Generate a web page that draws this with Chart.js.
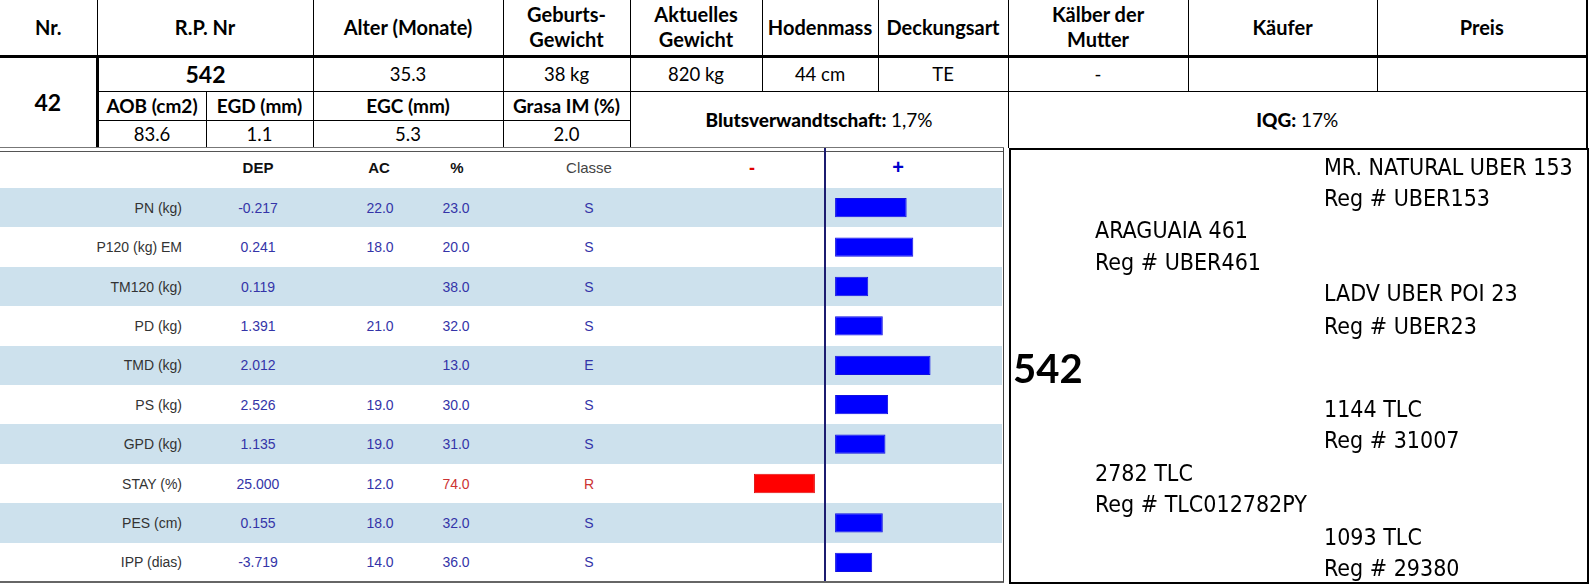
<!DOCTYPE html>
<html lang="de">
<head>
  <meta charset="UTF-8" />
  <title>Stier 542</title>
  <script src="https://cdn.jsdelivr.net/npm/chart.js"></script>
  <style>
    body { margin: 0; background: #fff; }
    #page { position: relative; width: 1592px; height: 584px; overflow: hidden; background: #fff; }
    table.top { position: absolute; left: 0; top: 0; border-collapse: collapse; table-layout: fixed; width: 1587px;
      font-family: Lato, 'Noto Sans', sans-serif; color: #000; }
    table.top td { border: 1px solid #000; text-align: center; vertical-align: middle; padding: 0; line-height: 25px; }
    table.top tr.h td { font-weight: bold; font-size: 20px; border-top: none; border-bottom: 3px solid #000; }
    table.top tr.r2 td { font-size: 18.5px; }
    table.top tr.r3 td { font-size: 19px; font-weight: bold; }
    table.top tr.r4 td { font-size: 18.5px; }
    table.top td.first { border-left: none; }
    table.top td.thickL { border-left: 3px solid #000; }
    table.top td.lastc { border-right: 2px solid #000; }
    .sep { position: absolute; left: 0; top: 147px; width: 1004px; height: 3px; border-top: 1px solid #777; border-bottom: 1px solid #555; }
    .stripe { position: absolute; left: 0; width: 1002px; background: #cde1ed; }
    .cell { position: absolute; font-family: 'Liberation Sans', Arial, sans-serif; font-size: 14px; line-height: 20px; white-space: nowrap; }
    .lab { color: #333; text-align: right; }
    .val { color: #3434a8; text-align: center; width: 80px; }
    .red { color: #cc3333; }
    .hd { font-weight: bold; color: #111; font-size: 15px; text-align: center; width: 80px; }
    #bars { position: absolute; left: 650px; top: 148px; }
    .vline { position: absolute; top: 148px; width: 1px; height: 434px; background: #444; }
    .bottom { position: absolute; left: 0; top: 581px; width: 1004px; height: 2px; background: #666; }
    .ped { position: absolute; left: 1009px; top: 148px; width: 576px; height: 432px; border: 2px solid #000; }
    .pt { position: absolute; font-family: 'Liberation Sans Narrow', 'DejaVu Sans Condensed', 'DejaVu Sans', sans-serif;
      font-size: 23px; line-height: 30px; color: #000; white-space: nowrap; }
  </style>
</head>
<body>
<div id="page">
  <table class="top">
    <colgroup>
      <col style="width:97px"><col style="width:109px"><col style="width:107px"><col style="width:190px">
      <col style="width:127px"><col style="width:132px"><col style="width:116px"><col style="width:130px">
      <col style="width:180px"><col style="width:189px"><col style="width:210px">
    </colgroup>
    <tr class="h" style="height:56px">
      <td class="first">Nr.</td>
      <td colspan="2">R.P. Nr</td>
      <td>Alter (Monate)</td>
      <td>Geburts-<br>Gewicht</td>
      <td>Aktuelles<br>Gewicht</td>
      <td>Hodenmass</td>
      <td>Deckungsart</td>
      <td>Kälber der<br>Mutter</td>
      <td>Käufer</td>
      <td class="lastc">Preis</td>
    </tr>
    <tr class="r2" style="height:35px">
      <td class="first" rowspan="3" style="font-weight:bold;font-size:23px;border-bottom:none">42</td>
      <td colspan="2" class="thickL" style="font-weight:bold;font-size:23px">542</td>
      <td>35.3</td>
      <td>38 kg</td>
      <td>820 kg</td>
      <td>44 cm</td>
      <td>TE</td>
      <td>-</td>
      <td></td>
      <td class="lastc"></td>
    </tr>
    <tr class="r3" style="height:29px">
      <td class="thickL">AOB (cm2)</td>
      <td>EGD (mm)</td>
      <td>EGC (mm)</td>
      <td>Grasa IM (%)</td>
      <td colspan="3" rowspan="2" style="font-size:19px;border-bottom:none"><b>Blutsverwandtschaft:</b> <span style="font-weight:normal">1,7%</span></td>
      <td colspan="3" rowspan="2" class="lastc" style="font-size:19px;border-bottom:none"><b>IQG:</b> <span style="font-weight:normal">17%</span></td>
    </tr>
    <tr class="r4" style="height:28px">
      <td class="thickL" style="border-bottom:none">83.6</td>
      <td style="border-bottom:none">1.1</td>
      <td style="border-bottom:none">5.3</td>
      <td style="border-bottom:none">2.0</td>
    </tr>
  </table>

  <div class="sep"></div>
  <div id="lower"></div>
  <canvas id="bars" width="350" height="434"></canvas>
  <div class="bottom"></div>
  <div class="vline" style="left:1003px"></div>
  <div class="ped" id="ped"></div>
</div>

<script>
  // Merkmale
  const traits = ['PN (kg)', 'P120 (kg) EM', 'TM120 (kg)', 'PD (kg)', 'TMD (kg)', 'PS (kg)', 'GPD (kg)', 'STAY (%)', 'PES (cm)', 'IPP (dias)'];
  const dep = ['-0.217', '0.241', '0.119', '1.391', '2.012', '2.526', '1.135', '25.000', '0.155', '-3.719'];
  const ac = ['22.0', '18.0', '', '21.0', '', '19.0', '19.0', '12.0', '18.0', '14.0'];
  const pct = ['23.0', '20.0', '38.0', '32.0', '13.0', '30.0', '31.0', '74.0', '32.0', '36.0'];
  const classe = ['S', 'S', 'S', 'S', 'E', 'S', 'S', 'R', 'S', 'S'];
  // Balkenlaenge (+ / -)
  const barValues = [27, 29.5, 12.5, 18, 36, 20, 19, -23, 18, 14];

  // Abstammung
  const pedNames = ['MR. NATURAL UBER 153', 'Reg # UBER153', 'ARAGUAIA 461', 'Reg # UBER461', 'LADV UBER POI 23', 'Reg # UBER23',
                    '1144 TLC', 'Reg # 31007', '2782 TLC', 'Reg # TLC012782PY', '1093 TLC', 'Reg # 29380'];
  const pedCol = [2, 2, 1, 1, 2, 2, 2, 2, 1, 1, 2, 2];
  const pedY = [167, 198, 230, 262, 293, 326, 409, 440, 473, 504, 537, 568];

  const ROW_TOP = 188, ROW_H = 39.4;
  const lower = document.getElementById('lower');
  const page = document.getElementById('page');

  function addCell(cls, text, left, cy, extra) {
    const d = document.createElement('div');
    d.className = 'cell ' + cls;
    d.textContent = text;
    d.style.left = left + 'px';
    d.style.top = (cy - 10) + 'px';
    if (extra) Object.assign(d.style, extra);
    lower.appendChild(d);
    return d;
  }

  traits.forEach((t, i) => {
    const top = ROW_TOP + ROW_H * i;
    if (i % 2 === 0) {
      const s = document.createElement('div');
      s.className = 'stripe';
      s.style.top = top + 'px';
      s.style.height = ROW_H + 'px';
      lower.appendChild(s);
    }
    const cy = top + ROW_H / 2;
    addCell('lab', t, 40, cy, { width: '142px' });
    addCell('val', dep[i], 218, cy);
    addCell('val', ac[i], 340, cy);
    addCell('val' + (classe[i] === 'R' ? ' red' : ''), pct[i], 416, cy);
    addCell('val' + (classe[i] === 'R' ? ' red' : ''), classe[i], 549, cy);
  });

  // Kopfzeile unten
  addCell('hd', 'DEP', 218, 168);
  addCell('hd', 'AC', 339, 168);
  addCell('hd', '%', 417, 168);
  addCell('val', 'Classe', 549, 168, { color: '#444', fontSize: '15px' });
  addCell('hd', '-', 712, 168, { color: '#e00000', fontSize: '18px' });
  addCell('hd', '+', 858, 167, { color: '#0000cc', fontSize: '20px' });

  pedNames.forEach((n, i) => {
    const d = document.createElement('div');
    d.className = 'pt';
    d.textContent = n;
    d.style.left = (pedCol[i] === 1 ? 1095 : 1324) + 'px';
    d.style.top = (pedY[i] - 15) + 'px';
    page.appendChild(d);
  });
  const big = document.createElement('div');
  big.className = 'pt';
  big.textContent = '542';
  Object.assign(big.style, { left: '1013px', top: '344px', fontFamily: "Lato, 'Noto Sans', sans-serif", fontWeight: 'bold', fontSize: '40px', lineHeight: '48px' });
  page.appendChild(big);

  // Balken mit kleinem Abstand zur Mittellinie
  const GAP = 3.8;
  const floating = barValues.map(v => v >= 0 ? [GAP, GAP + v] : [v - GAP, -GAP]);

  const centerLine = {
    id: 'centerLine',
    afterDraw(chart) {
      const x = chart.scales.x.getPixelForValue(0);
      const c = chart.ctx;
      c.save();
      c.strokeStyle = '#1c1c70';
      c.lineWidth = 2;
      c.beginPath();
      c.moveTo(x, 0);
      c.lineTo(x, chart.height);
      c.stroke();
      c.restore();
    }
  };

  new Chart(document.getElementById('bars'), {
    type: 'bar',
    data: {
      labels: traits,
      datasets: [{
        data: floating,
        backgroundColor: barValues.map(v => v < 0 ? '#ff0000' : '#0000ff'),
        borderColor: barValues.map(v => v < 0 ? '#e01010' : '#1010e0'),
        borderWidth: 1,
        borderSkipped: false,
        barPercentage: 0.49,
        categoryPercentage: 1
      }]
    },
    options: {
      indexAxis: 'y',
      responsive: false,
      animation: false,
      devicePixelRatio: 1,
      layout: { padding: { top: 40, left: 0, right: 0, bottom: 0 } },
      scales: {
        x: { display: false, min: -66, max: 66 },
        y: { display: false }
      },
      plugins: { legend: { display: false }, tooltip: { enabled: false } }
    },
    plugins: [centerLine]
  });
</script>
</body>
</html>
